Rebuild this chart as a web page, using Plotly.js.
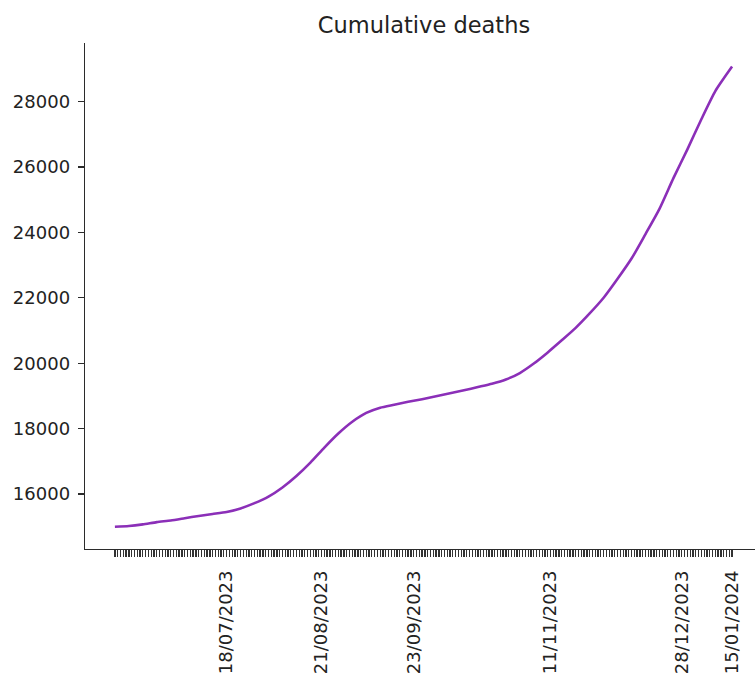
<!DOCTYPE html>
<html>
<head>
<meta charset="utf-8">
<script src="https://cdn.plot.ly/plotly-3.0.1.min.js"></script>
<style>html,body{margin:0;padding:0;background:#fff;overflow:hidden}</style>
</head>
<body>
<div id="chart" style="width:755px;height:674px"></div>
<script>
// Data
const dates = [
  '2023-06-08','2023-06-13','2023-06-18','2023-06-23','2023-06-28','2023-07-03','2023-07-08','2023-07-13',
  '2023-07-18','2023-07-23','2023-07-28','2023-08-02','2023-08-07','2023-08-12','2023-08-17','2023-08-22',
  '2023-08-27','2023-09-01','2023-09-06','2023-09-11','2023-09-16','2023-09-21','2023-09-26','2023-10-01',
  '2023-10-06','2023-10-11','2023-10-16','2023-10-21','2023-10-26','2023-10-31','2023-11-05','2023-11-10',
  '2023-11-15','2023-11-20','2023-11-25','2023-11-30','2023-12-05','2023-12-10','2023-12-15','2023-12-20',
  '2023-12-25','2023-12-30','2024-01-04','2024-01-09','2024-01-15'
];
const cumulativeDeaths = [
  15000, 15020, 15070, 15140, 15190, 15260, 15330, 15390,
  15450, 15560, 15720, 15920, 16200, 16550, 16960, 17420,
  17850, 18210, 18480, 18640, 18730, 18820, 18900, 18990,
  19080, 19170, 19270, 19370, 19500, 19700, 19990, 20330,
  20700, 21080, 21520, 22000, 22580, 23200, 23950, 24720,
  25660, 26540, 27460, 28320, 29070
];
const labelDates = ['2023-07-18','2023-08-21','2023-09-23','2023-11-11','2023-12-28','2024-01-15'];
const labelTexts = ['18/07/2023','21/08/2023','23/09/2023','11/11/2023','28/12/2023','15/01/2024'];
const yTicks = [16000, 18000, 20000, 22000, 24000, 26000, 28000];

// One tick per day across the data span, labels only at labelDates
function iso(d){ return d.toISOString().slice(0,10); }
const tickVals = [], tickText = [];
const start = new Date(dates[0] + 'T00:00:00Z');
const end = new Date(dates[dates.length-1] + 'T00:00:00Z');
for (let t = start.getTime(); t <= end.getTime(); t += 86400000) {
  const s = iso(new Date(t));
  tickVals.push(s);
  const k = labelDates.indexOf(s);
  tickText.push(k >= 0 ? labelTexts[k] : '');
}

const axisColor = '#2b2b2b';
const trace = {
  x: dates, y: cumulativeDeaths, type: 'scatter', mode: 'lines',
  line: {color: '#8b2fb8', width: 2.6, shape: 'spline', smoothing: 0.6},
  hoverinfo: 'skip'
};
const layout = {
  width: 755, height: 674,
  margin: {l: 85, r: 0, t: 43, b: 125},
  paper_bgcolor: '#fff', plot_bgcolor: '#fff',
  showlegend: false,
  font: {family: 'DejaVu Sans, sans-serif', size: 18, color: '#222'},
  title: {text: 'Cumulative deaths', font: {size: 22.5, color: '#222'},
          x: 0.506, xref: 'paper', xanchor: 'center', y: 0.963, yref: 'container', yanchor: 'middle'},
  xaxis: {
    type: 'date',
    range: ['2023-05-28 07:00', '2024-01-23 05:00'],
    tickmode: 'array', tickvals: tickVals, ticktext: tickText,
    tickangle: -90, ticks: 'outside', ticklen: 7, tickwidth: 1.3, tickcolor: '#333',
    ticklabelstandoff: 6,
    showline: true, linecolor: axisColor, linewidth: 1.3, mirror: false,
    showgrid: false, zeroline: false,
    tickfont: {size: 18, color: '#222'}
  },
  yaxis: {
    range: [14318, 29792],
    tickmode: 'array', tickvals: yTicks, ticktext: yTicks.map(String),
    ticks: 'outside', ticklen: 6, tickwidth: 1.2, tickcolor: axisColor,
    ticklabelstandoff: 4,
    showline: true, linecolor: axisColor, linewidth: 1.3, mirror: false,
    showgrid: false, zeroline: false,
    tickfont: {size: 18, color: '#222'}
  }
};
Plotly.newPlot('chart', [trace], layout, {displayModeBar: false, staticPlot: true});
</script>
</body>
</html>
